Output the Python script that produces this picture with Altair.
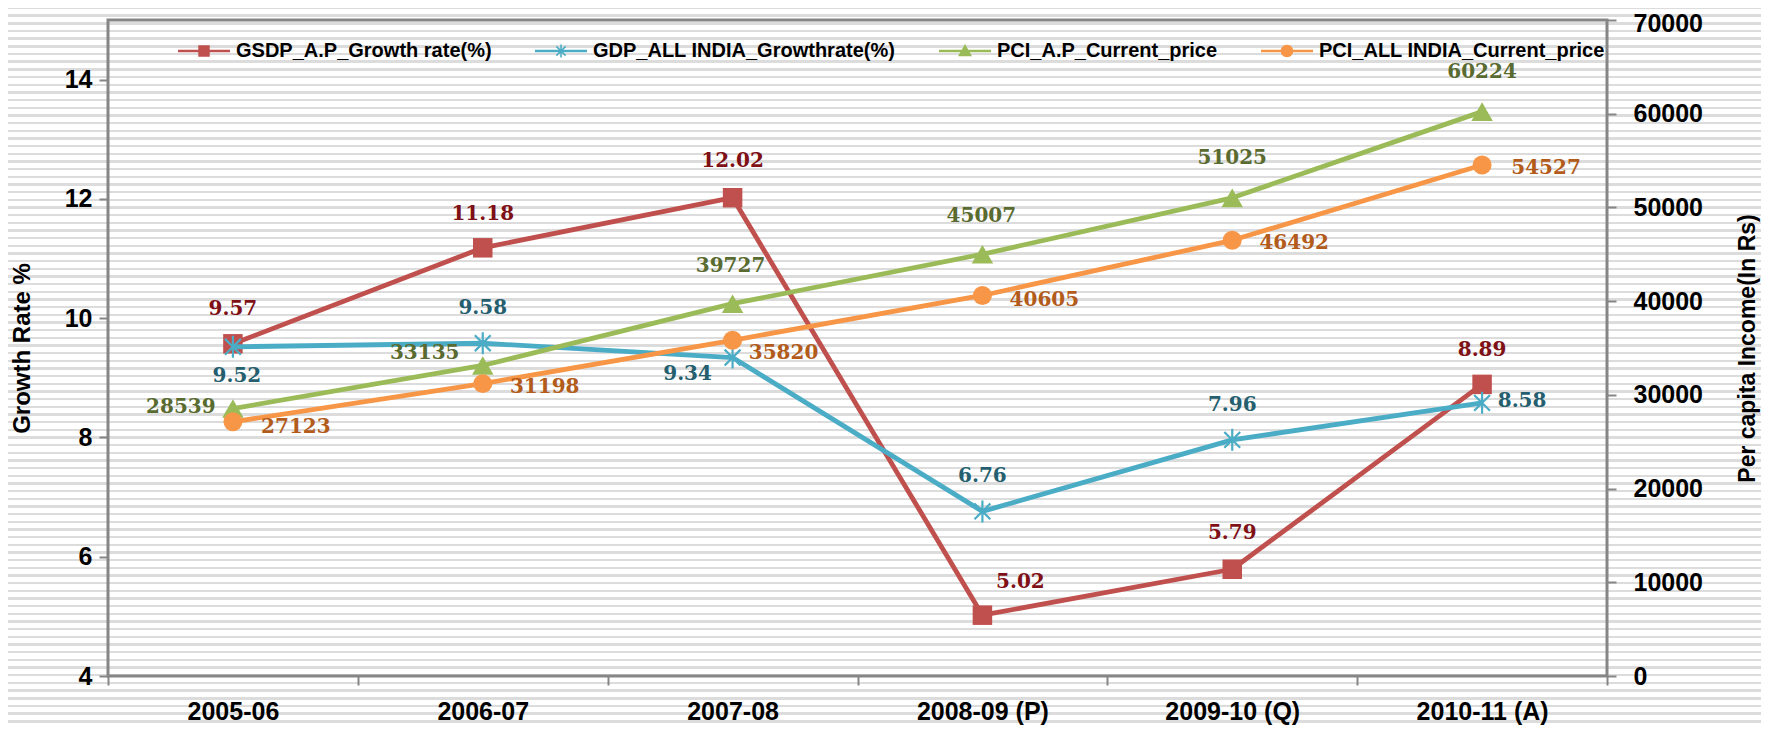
import json
import math
import altair as alt
import pandas as pd

# ---------------- data ----------------
years = ["2005-06", "2006-07", "2007-08", "2008-09 (P)", "2009-10 (Q)", "2010-11 (A)"]
gsdp_ap = [9.57, 11.18, 12.02, 5.02, 5.79, 8.89]
gdp_india = [9.52, 9.58, 9.34, 6.76, 7.96, 8.58]
pci_ap = [28539, 33135, 39727, 45007, 51025, 60224]
pci_india = [27123, 31198, 35820, 40605, 46492, 54527]

series_names = [
    "GSDP_A.P_Growth rate(%)",
    "GDP_ALL INDIA_Growthrate(%)",
    "PCI_A.P_Current_price",
    "PCI_ALL INDIA_Current_price",
]

# ---------------- styling / layout ----------------
line_colors = ["#C0504D", "#4BACC6", "#9BBB59", "#F79646"]
label_colors = ["#7E1016", "#255F6F", "#5A6B31", "#B25B1B"]

# pixel offsets of each data label from its point (dx, dy)
label_offsets = [
    [(0, -35), (0, -34), (0, -37), (38, -33), (0, -36), (0, -34)],
    [(4, 29), (0, -35), (-45, 16), (0, -35), (0, -35), (40, -2)],
    [(-52, -2), (-58, -12), (-2, -38), (-1, -38), (0, -40), (0, -40)],
    [(63, 5), (62, 3), (51, 13), (62, 5), (62, 3), (64, 3)],
]

W, H = 1499, 656
PAD = {"left": 100, "top": 12, "right": 154, "bottom": 49}
AXIS_GRAY = "#868686"
TICK_FONT = "Liberation Sans"
LABEL_FONT = "DejaVu Serif"

values_all = [gsdp_ap, gdp_india, pci_ap, pci_india]
rows = []
for si, (name, vals) in enumerate(zip(series_names, values_all)):
    for i, v in enumerate(vals):
        rows.append({
            "idx": i,
            "year": years[i],
            "series": name,
            "value": v,
            "dx": label_offsets[si][i][0],
            "dy": label_offsets[si][i][1],
        })
df = pd.DataFrame(rows)

common_axis = dict(
    labelFont=TICK_FONT,
    labelFontWeight="bold",
    labelColor="#000000",
    titleFont=TICK_FONT,
    titleFontWeight="bold",
    titleColor="#000000",
    tickColor=AXIS_GRAY,
    tickWidth=2,
    tickSize=9,
    grid=False,
    domain=False,
    zindex=3,
)

# ---------------- scales / axes ----------------
cats_js = json.dumps(years)
x_enc = alt.X(
    "idx:Q",
    scale=alt.Scale(domain=[-0.5, len(years) - 0.5], nice=False, zero=False),
    axis=alt.Axis(
        title=None,
        values=[k * 0.5 - 0.5 for k in range(2 * len(years) + 1)],
        labelExpr=f"datum.value % 1 == 0 ? {cats_js}[datum.value] : ''",
        labelOverlap=False,
        labelFlush=False,
        labelBaseline="middle",
        labelPadding=26,
        labelFontSize=25,
        tickOpacity={"condition": {"test": "datum.value % 1 != 0", "value": 1}, "value": 0},
        **common_axis,
    ),
)

y_left = alt.Y(
    "value:Q",
    scale=alt.Scale(domain=[4, 15], nice=False, zero=False),
    axis=alt.Axis(
        orient="left",
        values=[4, 6, 8, 10, 12, 14],
        title="Growth Rate %",
        titleFontSize=24,
        titleAngle=270,
        titleAlign="center",
        titleBaseline="middle",
        titleX=-86,
        titleY=H / 2,
        labelPadding=7,
        labelFontSize=25,
        **common_axis,
    ),
)

y_right = alt.Y(
    "value:Q",
    scale=alt.Scale(domain=[0, 70000], nice=False, zero=True),
    axis=alt.Axis(
        orient="right",
        values=list(range(0, 70001, 10000)),
        format="d",
        title="Per capita Income(In Rs)",
        titleFontSize=23,
        titleAngle=270,
        titleAlign="center",
        titleBaseline="middle",
        titleX=140,
        titleY=H / 2,
        labelPadding=17,
        labelFontSize=25,
        labelOffset={"condition": {"test": "datum.value >= 70000", "value": 3}, "value": 0},
        **common_axis,
    ),
)

star_path = "M0,-1L0,1M-0.72,-0.72L0.72,0.72M-0.72,0.72L0.72,-0.72"
marker_specs = [
    dict(shape="square", size=380, filled=True),
    dict(shape=star_path, size=484, filled=False, strokeWidth=2.2),
    dict(shape="triangle-up", size=462, filled=True),
    dict(shape="circle", size=360, filled=True),
]
fmts = [".2f", ".2f", "d", "d"]


def series_layers(si, y_enc):
    name = series_names[si]
    base = alt.Chart(df).transform_filter(alt.datum.series == name)
    line = base.mark_line(color=line_colors[si], strokeWidth=4.8, strokeJoin="round").encode(
        x=x_enc, y=y_enc
    )
    pts = base.mark_point(color=line_colors[si], opacity=1, **marker_specs[si]).encode(
        x=x_enc, y=y_enc
    )
    txt = base.mark_text(
        font=LABEL_FONT, fontSize=20, fontWeight="bold", color=label_colors[si],
        align="center", baseline="middle",
        dx={"expr": "datum.dx"}, dy={"expr": "datum.dy"},
    ).encode(
        x=x_enc,
        y=y_enc,
        text=alt.Text("value:Q", format=fmts[si]),
    )
    return line, pts, txt


l0, p0, t0 = series_layers(0, y_left)
l1, p1, t1 = series_layers(1, y_left)
l2, p2, t2 = series_layers(2, y_right)
l3, p3, t3 = series_layers(3, y_right)

left = alt.layer(l0, p0, l1, p1, t0, t1)
right = alt.layer(l2, p2, l3, p3, t2, t3)

# ---------------- striped background + plot frame ----------------
TOTAL_H = H + PAD["top"] + PAD["bottom"]
period, half = 7.67, 1.2
stripe = "#dcdcdc"
stops = []
k = 0
while k * period - half < TOTAL_H:
    c = k * period
    a = max(c - half, 0) / TOTAL_H
    b = min(c + half, TOTAL_H) / TOTAL_H
    stops += [
        {"offset": a, "color": "#ffffff"},
        {"offset": a, "color": stripe},
        {"offset": b, "color": stripe},
        {"offset": b, "color": "#ffffff"},
    ]
    k += 1
one = pd.DataFrame({"bg": [0]})
bg = alt.Chart(one).mark_rect(
    fill={"gradient": "linear", "x1": 0, "y1": 0, "x2": 0, "y2": 1, "stops": stops},
).encode(
    x=alt.value(-PAD["left"]),
    x2=alt.value(W + PAD["right"]),
    y=alt.value(-PAD["top"]),
    y2=alt.value(H + PAD["bottom"]),
)
frame = alt.Chart(one).mark_rect(
    fill="transparent", stroke=AXIS_GRAY, strokeWidth=3
).encode(
    x=alt.value(0), x2=alt.value(W), y=alt.value(0), y2=alt.value(H)
)

# ---------------- legend (symbols = line + marker) ----------------
def bar(theta, L, w):
    c, s = math.cos(theta), math.sin(theta)
    A = (L * c, L * s)
    Wv = (-w * s, w * c)
    pts = [
        (A[0] + Wv[0], A[1] + Wv[1]),
        (A[0] - Wv[0], A[1] - Wv[1]),
        (-A[0] - Wv[0], -A[1] - Wv[1]),
        (-A[0] + Wv[0], -A[1] + Wv[1]),
    ]
    area = sum(pts[i][0] * pts[(i + 1) % 4][1] - pts[(i + 1) % 4][0] * pts[i][1] for i in range(4))
    if area < 0:
        pts = pts[::-1]
    return "M" + "L".join(f"{x:.4f},{y:.4f}" for x, y in pts) + "Z"


lh = 0.05
legend_line = f"M-1,-{lh}H1V{lh}H-1Z"
legend_paths = [
    legend_line + "M-0.22,-0.22H0.22V0.22H-0.22Z",
    legend_line + bar(math.pi / 2, 0.25, 0.03) + bar(math.pi / 4, 0.25, 0.03) + bar(-math.pi / 4, 0.25, 0.03),
    legend_line + "M0,-0.27L0.27,0.2L-0.27,0.2Z",
    legend_line + "M0.24,0A0.24,0.24,0,1,1,-0.24,0A0.24,0.24,0,1,1,0.24,0Z",
]

legend_def = alt.Legend(
    orient="none",
    legendX=70,
    legendY=5,
    direction="horizontal",
    title=None,
    labelFont=TICK_FONT,
    labelFontWeight="bold",
    labelFontSize=20,
    labelColor="#000000",
    labelLimit=500,
    labelOffset=6,
    columnPadding=43,
    symbolSize=2704,
    symbolStrokeWidth=0,
    padding=0,
    zindex=3,
)
carrier = alt.Chart(pd.DataFrame({"series": series_names})).transform_filter("false").mark_point(
    filled=True, opacity=1
).encode(
    color=alt.Color("series:N", sort=series_names,
                    scale=alt.Scale(domain=series_names, range=line_colors), legend=legend_def),
    shape=alt.Shape("series:N", sort=series_names,
                    scale=alt.Scale(domain=series_names, range=legend_paths), legend=legend_def),
)

chart = alt.layer(bg, frame, left, right, carrier).resolve_scale(y="independent").properties(
    width=W,
    height=H,
    padding=PAD,
    autosize=alt.AutoSizeParams(type="none"),
    background="#ffffff",
).configure_view(
    stroke=None
)

chart.save("out.html", embed_options={"renderer": "svg", "actions": False})
